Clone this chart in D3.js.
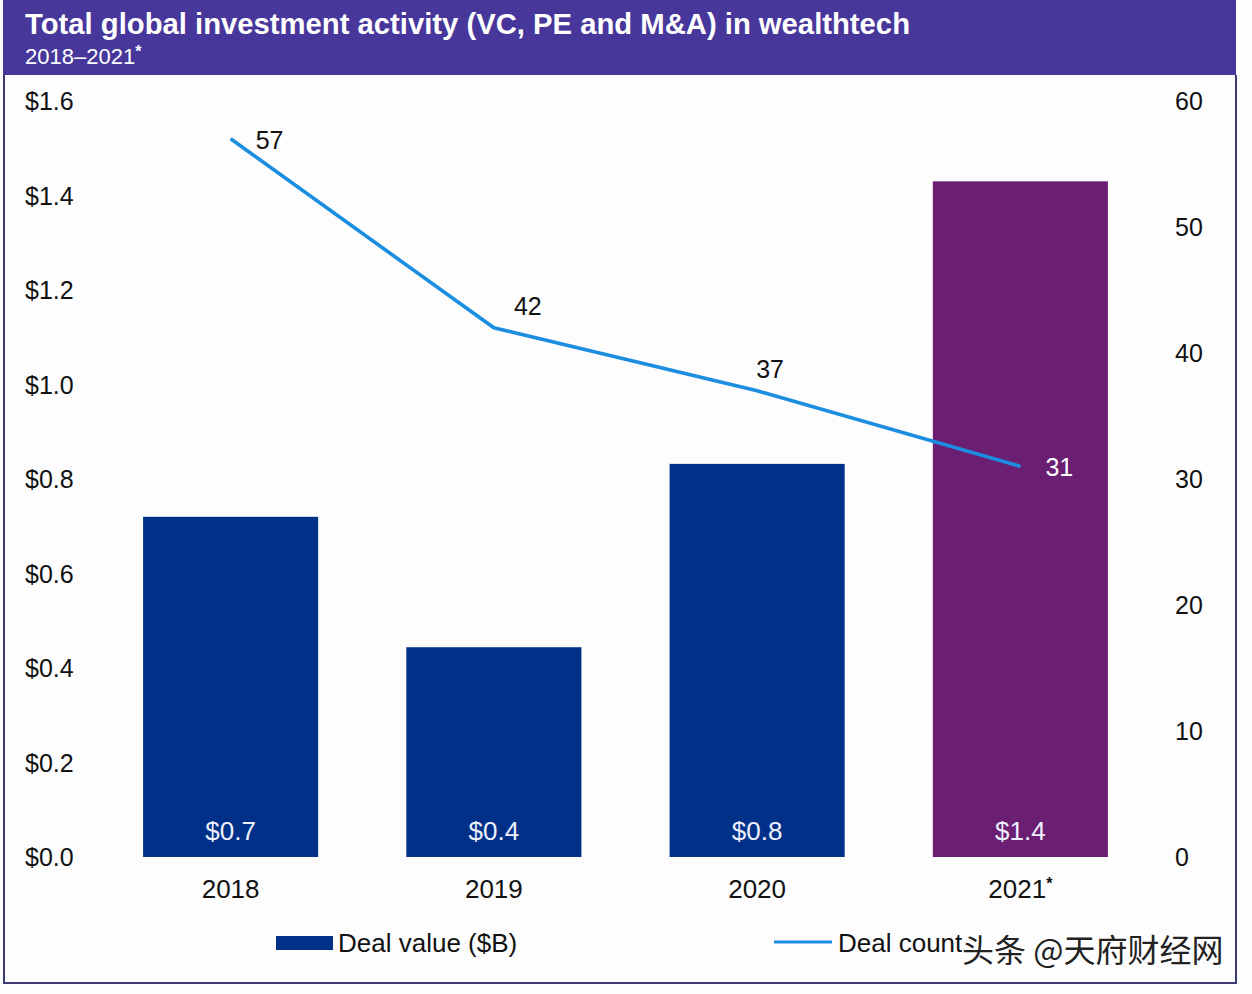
<!DOCTYPE html>
<html><head><meta charset="utf-8">
<script src="https://cdn.jsdelivr.net/npm/d3@7"></script>
<style>
html,body{margin:0;padding:0;background:#fff;}
svg{display:block;font-family:"Liberation Sans",Arial,sans-serif;}
</style></head>
<body>
<svg id="c" width="1252" height="994"></svg>
<script>
const years = ["2018","2019","2020","2021"];
const yearSup = ["","","","*"];
const dealValue = [0.72, 0.444, 0.832, 1.43];
const dealValueLabels = ["$0.7","$0.4","$0.8","$1.4"];
const dealCount = [57, 42, 37, 31];
const leftTicks = [0,0.2,0.4,0.6,0.8,1.0,1.2,1.4,1.6];
const rightTicks = [0,10,20,30,40,50,60];
const barColors = ["#003087","#003087","#003087","#6a1f73"];
// label offsets for line labels (style)
const countLabelOffsets = [[39,1],[34,-22],[13,-22],[39,1]];
const countLabelColors = ["#111","#111","#111","#fff"];

const svg = d3.select("#c");
const W=1252,H=994;
svg.append("rect").attr("width",W).attr("height",H).attr("fill","#fdfdfe");

// header band
svg.append("rect").attr("x",3).attr("y",0).attr("width",1233).attr("height",75).attr("fill","#47379b");
svg.append("text").attr("x",25).attr("y",34).attr("fill","#fff").attr("font-size",29).attr("font-weight","bold")
  .attr("textLength",885).attr("lengthAdjust","spacingAndGlyphs")
  .text("Total global investment activity (VC, PE and M&A) in wealthtech");
const st = svg.append("text").attr("x",25).attr("y",64).attr("fill","#fff").attr("font-size",22);
st.append("tspan").text("2018–2021");
st.append("tspan").attr("font-size",16).attr("dy",-7).attr("font-weight","bold").text("*");

// frame
svg.append("path").attr("d","M4,75 L4,983 L1236,983 L1236,75").attr("fill","none").attr("stroke","#3b3b72").attr("stroke-width",2);

const y0 = 857, y1 = 101;
const yL = d3.scaleLinear().domain([0,1.6]).range([y0,y1]);
const yR = d3.scaleLinear().domain([0,60]).range([y0,y1]);
const x = d3.scaleBand().domain(years).range([99,1152]).paddingInner(0.335).paddingOuter(0.1675);

// left axis
const gl = svg.append("g").attr("transform","translate(25,0)")
  .call(d3.axisLeft(yL).tickValues(leftTicks).tickSize(0).tickFormat(d=>"$"+d3.format(".1f")(d)));
gl.select(".domain").remove();
gl.selectAll("text").attr("x",0).attr("text-anchor","start").attr("font-size",25).attr("fill","#111")
  .attr("font-family","Liberation Sans, Arial, sans-serif").attr("dy","0.35em");

// right axis
const gr = svg.append("g").attr("transform","translate(1175,0)")
  .call(d3.axisRight(yR).tickValues(rightTicks).tickSize(0));
gr.select(".domain").remove();
gr.selectAll("text").attr("x",0).attr("text-anchor","start").attr("font-size",25).attr("fill","#111")
  .attr("font-family","Liberation Sans, Arial, sans-serif").attr("dy","0.35em");

// bars
svg.selectAll("rect.bar").data(years).enter().append("rect").attr("class","bar")
  .attr("x",d=>x(d)).attr("width",x.bandwidth())
  .attr("y",(d,i)=>yL(dealValue[i])).attr("height",(d,i)=>y0-yL(dealValue[i]))
  .attr("fill",(d,i)=>barColors[i]);

svg.selectAll("text.bl").data(years).enter().append("text").attr("class","bl")
  .attr("x",d=>x(d)+x.bandwidth()/2).attr("y",831).attr("dy","0.35em")
  .attr("text-anchor","middle").attr("font-size",26).attr("fill","#eef0ff")
  .text((d,i)=>dealValueLabels[i]);

// x axis labels
const xl = svg.selectAll("text.xl").data(years).enter().append("text").attr("class","xl")
  .attr("x",d=>x(d)+x.bandwidth()/2).attr("y",889).attr("dy","0.35em")
  .attr("text-anchor","middle").attr("font-size",26).attr("fill","#111");
xl.append("tspan").text(d=>d);
xl.append("tspan").attr("font-size",16).attr("dy",-9).attr("font-weight","bold").text((d,i)=>yearSup[i]);

// line
const line = d3.line().x((d,i)=>x(years[i])+x.bandwidth()/2).y(d=>yR(d));
svg.append("path").datum(dealCount).attr("d",line).attr("fill","none")
  .attr("stroke","#1b8ee0").attr("stroke-width",3.6);

svg.selectAll("text.cl").data(dealCount).enter().append("text").attr("class","cl")
  .attr("x",(d,i)=>x(years[i])+x.bandwidth()/2+countLabelOffsets[i][0])
  .attr("y",(d,i)=>yR(d)+countLabelOffsets[i][1]).attr("dy","0.35em")
  .attr("text-anchor","middle").attr("font-size",25).attr("fill",(d,i)=>countLabelColors[i])
  .text(d=>d);

// legend
svg.append("rect").attr("x",276).attr("y",936).attr("width",57).attr("height",14).attr("fill","#003087");
svg.append("text").attr("x",338).attr("y",943).attr("dy","0.35em").attr("font-size",26).attr("fill","#111").text("Deal value ($B)");
svg.append("line").attr("x1",774).attr("x2",832).attr("y1",942).attr("y2",942).attr("stroke","#1b8ee0").attr("stroke-width",3.2);
svg.append("text").attr("x",838).attr("y",943).attr("dy","0.35em").attr("font-size",26).attr("fill","#111").text("Deal count");

// watermark
svg.append("text").attr("x",962).attr("y",962).attr("font-size",32)
  .attr("font-family","Noto Sans CJK SC, sans-serif").attr("fill","#222")
  .attr("stroke","#fff").attr("stroke-width",3).attr("paint-order","stroke")
  .text("头条 @天府财经网");
</script>
</body></html>
